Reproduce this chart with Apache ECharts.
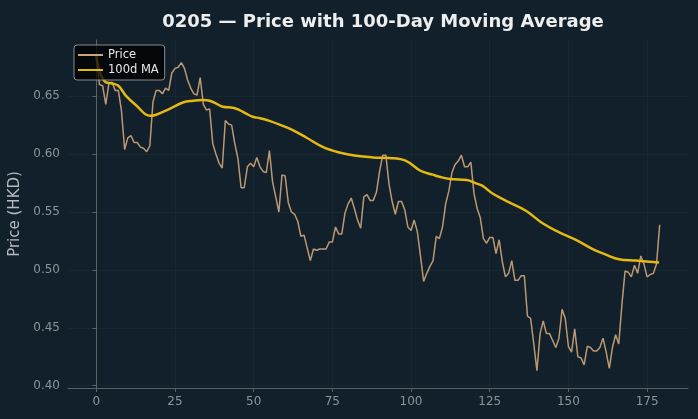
<!DOCTYPE html>
<html>
<head>
<meta charset="utf-8">
<script src="https://cdn.jsdelivr.net/npm/echarts@6/dist/echarts.min.js"></script>
<style>
  html, body { margin: 0; padding: 0; background: #11202a; }
  #chart { width: 698px; height: 419px; }
</style>
</head>
<body>
<div id="chart"></div>
<script>
// daily close, index 0..179
var price = [
    0.685, 0.660, 0.659, 0.643, 0.661, 0.662, 0.655, 0.655, 0.637, 0.604,
    0.614, 0.616, 0.610, 0.610, 0.606, 0.605, 0.602, 0.607, 0.645, 0.655,
    0.655, 0.652, 0.657, 0.655, 0.670, 0.674, 0.675, 0.679, 0.674, 0.664,
    0.657, 0.652, 0.651, 0.666, 0.643, 0.638, 0.639, 0.609, 0.600, 0.592,
    0.588, 0.629, 0.626, 0.625, 0.609, 0.596, 0.571, 0.571, 0.589, 0.592,
    0.589, 0.597, 0.589, 0.585, 0.584, 0.603, 0.576, 0.563, 0.550, 0.582,
    0.581, 0.558, 0.550, 0.548, 0.542, 0.529, 0.530, 0.519, 0.508, 0.518,
    0.517, 0.518, 0.518, 0.518, 0.524, 0.524, 0.537, 0.531, 0.531, 0.549,
    0.557, 0.562, 0.553, 0.543, 0.536, 0.563, 0.565, 0.560, 0.560, 0.567,
    0.585, 0.599, 0.599, 0.574, 0.559, 0.548, 0.559, 0.559, 0.552, 0.537,
    0.534, 0.543, 0.533, 0.512, 0.490, 0.497, 0.503, 0.508, 0.529, 0.527,
    0.537, 0.557, 0.568, 0.584, 0.591, 0.594, 0.599, 0.589, 0.589, 0.593,
    0.566, 0.553, 0.545, 0.527, 0.523, 0.528, 0.528, 0.514, 0.526, 0.507,
    0.494, 0.497, 0.508, 0.491, 0.491, 0.495, 0.495, 0.460, 0.458, 0.436,
    0.413, 0.445, 0.456, 0.445, 0.445, 0.439, 0.433, 0.441, 0.466, 0.458,
    0.434, 0.429, 0.449, 0.425, 0.424, 0.418, 0.434, 0.433, 0.430, 0.430,
    0.433, 0.441, 0.429, 0.415, 0.433, 0.444, 0.436, 0.470, 0.499, 0.498,
    0.494, 0.504, 0.497, 0.512, 0.505, 0.494, 0.496, 0.497, 0.505, 0.539
];

// 100-day moving average
var maX = [0, 1, 3, 5, 7, 9.5, 12.7, 17, 19, 23.3, 27.5, 30.7, 33.9, 36, 38.1, 40.2, 43.4, 45.5, 47.6, 49.7,
    52, 55, 59.2, 62.4, 66.7, 71.9, 77.2, 82.5, 87.8, 93.1, 98.4, 103, 106.9, 109, 112.4, 117.7, 120.6,
    122.6, 125.9, 131.2, 136.5, 141.8, 147.1, 152.4, 157.7, 161.9, 166.1, 171.4, 178.8];
var maY = [0.685, 0.672, 0.662, 0.661, 0.659, 0.650, 0.642, 0.633, 0.634, 0.639, 0.6445, 0.646, 0.6466, 0.646, 0.6436, 0.6408, 0.640, 0.638, 0.635, 0.6322,
    0.631, 0.6287, 0.6244, 0.6207, 0.6143, 0.6063, 0.6014, 0.5985, 0.5971, 0.5966, 0.5942, 0.5856, 0.5822, 0.5804, 0.5784, 0.5776, 0.5747,
    0.5727, 0.566, 0.5583, 0.5511, 0.5402, 0.5324, 0.5259, 0.518, 0.5132, 0.5091, 0.508, 0.5063];

var xTicks = [0, 25, 50, 75, 100, 125, 150, 175];
var yTicks = [0.40, 0.45, 0.50, 0.55, 0.60, 0.65];

var priceData = price.map(function(v, k) { return [k, v]; });
var maData = maX.map(function(v, k) { return [v, maY[k]]; });

var axisCol = '#5b6266';
var labelCol = '#8d9498';
var gridCol = 'rgba(255,255,255,0.03)';
var font = 'DejaVu Sans';

var chart = echarts.init(document.getElementById('chart'), null, { renderer: 'canvas' });
chart.setOption({
    backgroundColor: '#11202a',
    animation: false,
    textStyle: { fontFamily: font },
    title: {
        text: '0205 \u2014 Price with 100-Day Moving Average',
        left: 378,
        textAlign: 'center',
        top: 8,
        textStyle: { color: '#eeeeee', fontSize: 18, fontWeight: 'bold', fontFamily: font }
    },
    legend: {
        orient: 'vertical',
        left: 74,
        top: 45,
        padding: [4, 6, 4, 4],
        itemGap: 3,
        itemWidth: 25,
        itemHeight: 2,
        backgroundColor: 'rgba(0,0,0,0.75)',
        borderColor: '#8a8a8a',
        borderWidth: 1,
        borderRadius: 3,
        textStyle: { color: '#e8e8e8', fontSize: 11.5, fontFamily: font },
        data: [
            { name: 'Price', icon: 'rect' },
            { name: '100d MA', icon: 'rect' }
        ]
    },
    grid: { left: 68, right: 10, top: 40, bottom: 31, containLabel: false, outerBoundsMode: 'none' },
    xAxis: {
        type: 'value',
        min: -9,
        max: 188,
        axisLine: { show: true, lineStyle: { color: axisCol } },
        axisTick: { show: true, length: 4, lineStyle: { color: axisCol }, customValues: xTicks },
        axisLabel: { color: labelCol, fontSize: 12, margin: 8, customValues: xTicks },
        splitLine: { show: true, lineStyle: { color: gridCol } }
    },
    yAxis: {
        type: 'value',
        min: 0.398,
        max: 0.6985,
        name: 'Price (HKD)',
        nameLocation: 'middle',
        nameGap: 40,
        nameTextStyle: { color: '#b4bbbf', fontSize: 15, fontFamily: font },
        axisLine: { show: true, lineStyle: { color: axisCol } },
        axisTick: { show: true, length: 4, lineStyle: { color: axisCol }, customValues: yTicks },
        axisLabel: {
            color: labelCol, fontSize: 12, margin: 8, customValues: yTicks,
            formatter: function(v) { return v.toFixed(2); }
        },
        splitLine: { show: true, lineStyle: { color: gridCol } }
    },
    series: [{
        name: 'Price',
        type: 'line',
        data: priceData,
        showSymbol: false,
        color: '#cfa57a',
        lineStyle: { width: 1.5, color: '#cfa57a', opacity: 0.9 },
        z: 2
    }, {
        name: '100d MA',
        type: 'line',
        data: maData,
        smooth: 0.4,
        showSymbol: false,
        color: '#e5b812',
        lineStyle: { width: 2.5, color: '#e5b812' },
        z: 3
    }]
});
</script>
</body>
</html>
